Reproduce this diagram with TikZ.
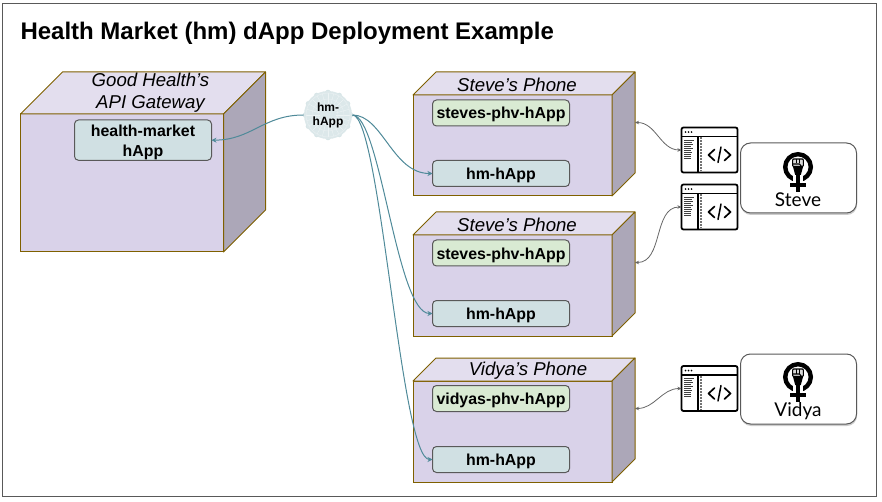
\documentclass[tikz,border=0pt]{standalone}
\usepackage{fontspec}
\setmainfont{Liberation Sans}
\newfontfamily\namefont{Lato}
\usetikzlibrary{arrows.meta,positioning,calc,shadows}

\definecolor{cubefill}{HTML}{D9D2E9}
\definecolor{cubelight}{HTML}{E3DEEE}
\definecolor{cubedark}{HTML}{ACA7B8}
\definecolor{cubeline}{HTML}{7F6000}
\definecolor{happblue}{HTML}{D0E0E3}
\definecolor{happgreen}{HTML}{D9EAD3}
\definecolor{linkteal}{HTML}{4F8A99}
\definecolor{framegray}{HTML}{595959}

% name, left, top, width, height, depth
\newcommand{\cubebox}[6]{%
  \node[cubefront, minimum width=#4pt, minimum height=#5pt] (#1) at (#2,#3) {};
  \draw[cubeedge, fill=cubelight] (#1.north west) -- ++(#6,-#6) -- ++(#4,0) -- (#1.north east) -- cycle;
  \draw[cubeedge, fill=cubedark] (#1.north east) -- ++(#6,-#6) -- ++(0,#5) -- (#1.south east) -- cycle;
  \coordinate (#1-side) at ($(#1.east)+(#6,-#6)$);
}

% name, left, top
\newcommand{\codewin}[3]{%
  \begin{scope}[shift={(#2,#3)}]
    \node[winframe] (#1) at (0,0) {};
    \draw[line width=1.6pt] (0.5,9) -- (55.5,9);
    \draw[line width=2.4pt] (16.5,9) -- (16.5,45);
    \foreach \dotx in {4,7,10} {\fill (\dotx,4.6) circle (0.9);}
    \foreach \liney/\linew in {12.5/9.5,14.5/8,16.5/9,18.5/7,20.5/9,22.5/6.5,24.5/8,26.5/7,28.5/6.5,30.5/6.5} {
      \draw[line width=0.8pt, black!75] (2.5,\liney) -- ++(\linew,0);
    }
    \draw[line width=2pt, densely dotted, black!55] (19,10) -- (19,44);
    \draw[line width=1.7pt, line cap=round, line join=round] (33,22) -- (27,27.5) -- (33,33);
    \draw[line width=1.7pt, line cap=round, line join=round] (43,22) -- (49,27.5) -- (43,33);
    \draw[line width=1.5pt, line cap=round] (39.5,19.5) -- (36.5,35);
  \end{scope}
}

% center of the ring
\newcommand{\fisticon}[2]{%
  \begin{scope}[shift={(#1,#2)}]
    \draw[line width=4.4pt] (0,0) circle (12.8);
    \fill[white] (-4.8,8) rectangle (4.8,16);
    \draw[line width=4.4pt] (0,6) -- (0,25);
    \draw[line width=3.8pt] (-8,18) -- (8,18);
    \fill (-5.5,-2) -- (5.5,-2) -- (2.8,8) -- (-2.8,8) -- cycle;
    \draw[line width=1.1pt, fill=black!15, rounded corners=1pt] (-5.4,-8) rectangle (5.4,-0.5);
    \draw[line width=0.9pt] (-1.8,-8) -- (-1.8,-3.5) (1.8,-8) -- (1.8,-3.5);
    \draw[line width=1.1pt] (-5,-3) -- (1.5,-3) -- (3.5,-0.5);
  \end{scope}
}

\begin{document}
\begin{tikzpicture}[
  x=1pt, y=-1pt,
  line width=1pt,
  cubefront/.style={draw=cubeline, fill=cubefill, anchor=north west, outer sep=0pt, inner sep=0pt},
  cubeedge/.style={draw=cubeline, line join=round},
  happbox/.style={draw=framegray, rounded corners=4pt, inner sep=0pt, outer sep=0pt, anchor=north west,
    minimum width=137pt, minimum height=26pt, text height=15pt, text depth=3pt, align=center,
    font=\fontsize{15.9}{20}\selectfont\bfseries},
  cubelabel/.style={font=\fontsize{18.6}{22}\selectfont\itshape, align=center, inner sep=0pt},
  winframe/.style={draw, line width=1.8pt, rounded corners=2pt, fill=white, anchor=north west, outer sep=0pt,
    inner sep=0pt, minimum width=56pt, minimum height=45pt},
  person/.style={draw=framegray, fill=white, rounded corners=10pt, anchor=north west, outer sep=0pt, inner sep=0pt,
    minimum width=116pt, minimum height=70pt, drop shadow={shadow xshift=0.5pt, shadow yshift=-2pt, opacity=0.4}},
  personname/.style={font=\namefont\fontsize{19}{22}\selectfont, inner sep=0pt},
  happlink/.style={draw=linkteal, -{Stealth[length=5pt,width=5pt]}},
  winlink/.style={draw=black!60, line width=0.8pt, {Stealth[length=4pt,width=3.5pt]}-{Stealth[length=4pt,width=3.5pt]}}
]
\useasboundingbox (0,0) rectangle (882,502);
\node[draw=framegray, outer sep=0pt, inner sep=0pt, anchor=north west, minimum width=873.5pt, minimum height=492.5pt] (frame) at (2.5,3.5) {};
\node[anchor=west, inner sep=0pt, font=\fontsize{24}{28}\selectfont\bfseries] (title) at (20,33) {Health Market (hm) dApp Deployment Example};

\cubebox{gateway}{20.5}{114}{203}{138}{42}
\cubebox{phoneone}{413}{95}{199}{101}{23}
\cubebox{phonetwo}{413}{235}{199}{101}{23}
\cubebox{phonethree}{413}{381}{199}{101}{23}

\node[cubelabel] (gatewaylabel) at (150.5,92.5) {Good Health’s\\API Gateway};
\node[cubelabel] (phoneonelabel) at (517,85) {Steve’s Phone};
\node[cubelabel] (phonetwolabel) at (517,225) {Steve’s Phone};
\node[cubelabel] (phonethreelabel) at (528,371) {Vidya’s Phone};

\node[happbox, fill=happblue, minimum height=40pt, text height=, text depth=, text width=130pt] (market) at (74.5,120) {\rule{0pt}{17pt}health-market\\hApp};
\node[happbox, fill=happgreen] (phvone) at (432.5,100) {steves-phv-hApp};
\node[happbox, fill=happblue] (hmone) at (432.5,160.5) {hm-hApp};
\node[happbox, fill=happgreen] (phvtwo) at (432.5,240) {steves-phv-hApp};
\node[happbox, fill=happblue] (hmtwo) at (432.5,300.5) {hm-hApp};
\node[happbox, fill=happgreen] (phvthree) at (432.5,385.5) {vidyas-phv-hApp};
\node[happbox, fill=happblue] (hmthree) at (432.5,446.5) {hm-hApp};

% the round hm-hApp badge
\foreach \ang in {0,30,...,330} {
  \fill[happblue!85] (328,115) ++(\ang:22.5) circle (2.8);
}
\fill[happblue!75] (328,115) circle (24);
\foreach \ang in {0,15,...,345} {
  \draw[white!60!happblue, line width=0.4pt] (328,115) ++(\ang:8) -- ++(\ang:14);
}
\foreach \ringr in {10,16,22} {
  \draw[white!50!happblue, line width=0.5pt] (328,115) circle (\ringr);
}
\node[circle, minimum size=48pt, inner sep=0pt, align=center,
  font=\fontsize{12}{14}\selectfont\bfseries] (badge) at (328,115) {hm-\\hApp};

\draw[happlink] (badge.west) to[out=180, in=0, out distance=40pt, in distance=40pt] (market.east);
\draw[happlink] (badge.east) to[out=0, in=180, out distance=30pt, in distance=40pt] (hmone.west);
\draw[happlink] (badge.east) to[out=0, in=180, out distance=28pt, in distance=36pt] (hmtwo.west);
\draw[happlink] (badge.east) to[out=0, in=180, out distance=28pt, in distance=32pt] (hmthree.west);

\codewin{winone}{681.5}{127.5}
\codewin{wintwo}{681.5}{184.5}
\codewin{winthree}{681.5}{366}

\node[person] (steve) at (740.5,143) {};
\fisticon{798}{167}
\node[personname] (stevename) at (798,200) {Steve};
\node[person] (vidya) at (740.5,354) {};
\fisticon{798}{377}
\node[personname] (vidyaname) at (798,411) {Vidya};

\draw[winlink] (phoneone-side) to[out=0, in=180] (winone.west);
\draw[winlink] (phonetwo-side) to[out=0, in=180] (wintwo.west);
\draw[winlink] (phonethree-side) to[out=0, in=180] (winthree.west);
\end{tikzpicture}
\end{document}
